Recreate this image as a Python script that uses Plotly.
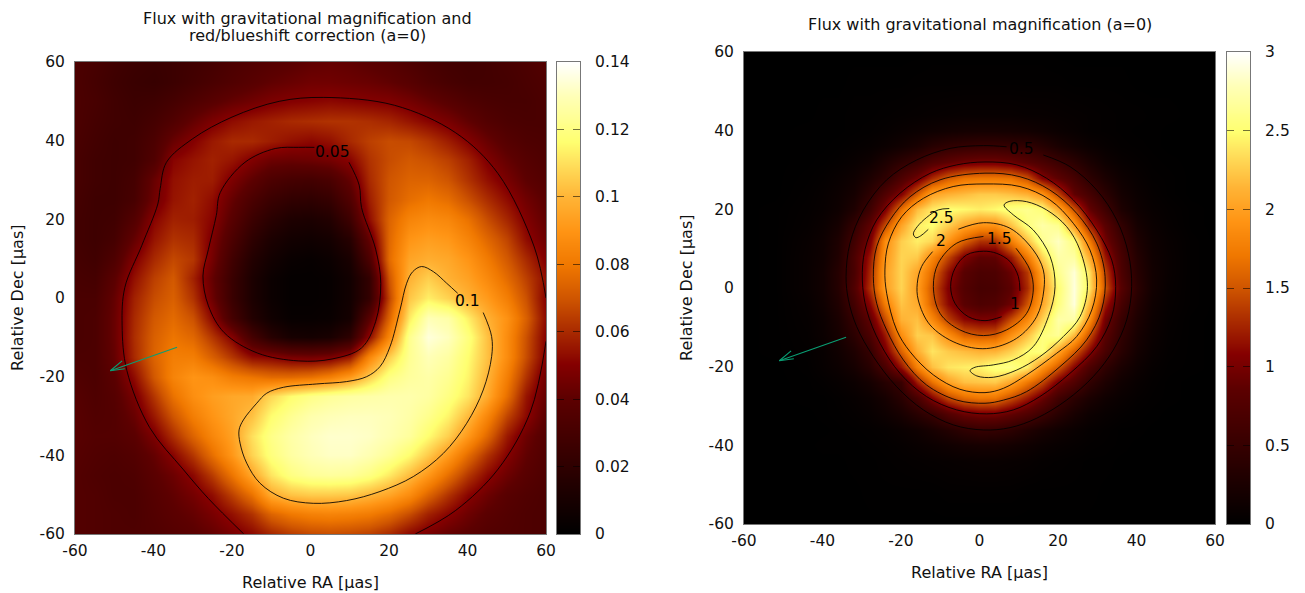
import numpy as np
import plotly.graph_objects as go

# ---------- left panel: flux with magnification and red/blueshift, unit 0.001 ----------
left_x = list(range(-60, 61, 5))
left_y = list(range(60, -61, -5))
left_flux_milli = [
[33,31,28,26,25,26,28,30,33,35,37,39,41,42,41,39,37,34,31,29,28,29,31,33,36],
[33,30,27,25,24,26,29,32,35,38,41,43,45,45,44,43,41,38,34,31,29,29,30,32,34],
[33,31,28,26,27,30,34,38,42,45,48,50,51,52,51,50,49,46,42,38,34,32,31,31,33],
[33,30,28,27,30,35,42,48,53,56,58,60,61,62,62,61,59,55,51,47,41,36,33,32,32],
[32,29,27,28,33,43,50,56,60,60,57,54,52,54,60,65,68,67,63,57,50,43,37,34,33],
[31,28,27,28,35,51,55,58,55,49,44,43,44,46,51,62,68,71,69,65,58,49,42,37,34],
[31,28,27,30,43,54,57,57,48,40,33,30,29,32,42,60,70,74,74,70,62,54,47,40,36],
[30,27,27,31,45,55,58,53,42,32,25,21,20,23,35,57,71,77,80,77,69,61,53,45,39],
[29,27,28,36,51,58,57,51,38,26,18,13,12,15,27,53,74,84,87,85,78,68,59,49,41],
[29,27,30,42,55,62,60,48,33,20,12,8,7,9,17,42,75,90,93,91,84,75,66,53,44],
[30,28,34,49,60,67,63,46,28,15,8,4,3,5,11,33,76,95,98,96,90,81,71,60,49],
[31,30,39,54,65,71,58,42,25,12,5,2,2,3,8,22,70,99,106,99,94,86,76,65,53],
[32,32,42,58,68,73,62,44,25,12,5,2,2,3,8,22,66,104,113,107,99,92,82,69,50],
[32,33,43,60,71,76,69,52,30,15,7,3,3,4,9,38,74,112,130,127,113,99,89,73,52],
[32,33,43,61,73,79,75,63,50,30,17,10,9,11,20,53,85,122,135,131,119,103,87,69,50],
[33,33,42,60,74,82,82,73,63,53,51,47,46,48,56,85,106,123,130,126,116,103,87,68,49],
[35,33,39,53,71,84,90,88,82,79,76,76,78,83,92,106,120,125,127,123,114,100,82,62,44],
[37,34,37,47,63,78,88,93,96,97,108,116,121,124,126,127,128,128,126,120,111,97,77,55,42],
[38,35,36,43,56,70,82,90,96,103,116,123,128,130,131,131,130,127,122,114,101,85,66,52,39],
[38,36,36,39,48,61,74,85,94,110,121,127,131,133,133,132,129,125,116,106,91,75,56,44,36],
[37,35,34,36,42,51,63,77,91,107,119,126,130,132,132,129,124,116,105,92,76,62,50,41,35],
[36,34,33,34,39,44,52,64,79,96,111,120,124,125,124,120,112,102,91,77,63,52,44,38,34],
[36,35,33,33,37,41,46,53,65,78,97,103,105,105,104,100,95,87,74,62,51,44,38,35,33],
[36,35,34,33,36,39,42,47,54,62,74,80,83,84,83,81,76,68,58,51,44,39,36,34,33],
[36,35,34,34,35,37,39,42,47,52,59,64,67,68,67,65,60,52,47,42,39,36,35,34,33],
]

# contour lines (µas); None separates pieces
left_c005_x = [9.8,12.4,13,16.6,17.9,16.6,13,5.5,-3,-13.5,-22,-26,-27.4,-26,-24,-23,-16.7,-9,-3,1,
               None,-17,-26,-32.5,-41,-46.8,-48,-47.3,-43,-38.9,-38.3,-36.7,-30,-20,-8,3.4,21.4,37,47.8,57,60,
               None,60,56,47.8,37,26.7]
left_c005_y = [34.5,28.7,23,12.4,3.7,-6,-12.7,-15.5,-16,-14,-8.8,-2,5.6,12.4,21,26.8,34.5,38,38.3,38.3,
               None,-60,-51,-43.5,-32.9,-18.4,-6.9,2.7,13.3,23.9,27.8,34.5,40.5,46,50,51,49,42,31.6,13,0,
               None,-11,-29,-43.5,-54,-60]
left_c010_x = [44,46.15,46.15,44,39.8,33.85,26.2,17.7,9.2,0.7,-6.9,-12.85,-16.25,-17.95,-18.2,-17.1,-13.7,
               -11.15,-6.9,1.6,9.2,14.3,17.7,20.25,22.8,24.5,26.05,28.3,31.3,34.7,37.5]
left_c010_y = [-3.7,-9.8,-14.9,-23.4,-31.85,-39.5,-45.4,-49.2,-51.5,-52.2,-50.9,-47.1,-42,-36.9,-33.55,-31,-26.75,
               -24.2,-22.7,-21.85,-21.25,-20,-17.45,-12.4,-3.05,3.75,6.7,8,6.7,3.75,1.2]

# ---------- right panel: flux with magnification, unit 0.01 ----------
right_x = [-60,-52,-44,-40,-36,-32,-28,-24,-20,-16,-12,-8,-4,0,4,8,12,16,20,24,28,32,36,40,44,48,54,60]
right_y = [60,52,44,40,36,32,28,24,20,16,12,8,4,0,-4,-8,-12,-16,-20,-24,-28,-32,-36,-40,-44,-52,-60]
right_flux_centi = [
[0,0,0,0,0,0,0,0,0,0,1,1,1,1,1,1,1,1,0,0,0,0,0,0,0,0,0,0],
[0,0,0,0,0,1,1,1,1,2,2,2,2,2,2,2,2,2,2,1,1,1,1,0,0,0,0,0],
[0,0,0,1,1,2,2,3,4,5,6,7,8,8,8,8,7,7,6,5,4,3,2,2,1,1,0,0],
[0,0,1,1,1,2,3,5,8,11,14,17,19,20,20,19,17,14,10,7,4,3,2,1,1,0,0,0],
[0,0,1,1,2,4,6,10,16,24,36,44,48,51,51,48,46,36,24,16,10,6,3,2,1,0,0,0],
[0,0,1,2,4,8,14,27,42,55,74,86,95,99,99,93,80,69,55,40,25,13,7,4,2,1,0,0],
[0,0,2,4,8,14,27,43,71,96,129,154,168,171,171,168,148,107,85,65,42,25,13,7,3,2,0,0],
[0,0,3,6,11,20,42,74,106,155,203,212,218,225,225,220,212,193,142,88,65,40,19,10,5,2,0,0],
[0,1,4,7,13,28,58,103,165,218,240,250,247,242,247,257,262,252,207,148,90,58,27,13,7,4,1,0],
[0,1,5,10,20,47,85,145,203,242,250,228,205,192,192,222,255,272,262,198,125,82,46,20,10,5,1,0],
[0,1,7,13,27,60,102,188,227,242,232,193,157,132,132,176,220,262,282,255,175,98,58,27,13,7,2,0],
[0,1,8,14,30,70,120,195,230,225,183,142,103,86,88,120,172,230,272,270,210,120,67,33,15,8,2,0],
[0,1,8,16,35,68,128,202,230,205,162,115,82,70,72,93,135,205,262,288,237,140,72,36,17,8,2,0],
[0,1,8,16,34,74,133,200,230,200,150,105,77,65,67,85,128,195,250,290,240,150,80,40,17,7,2,0],
[0,1,6,14,29,62,110,175,222,208,155,112,83,72,76,95,149,205,255,290,216,122,66,33,14,6,2,0],
[0,1,5,11,24,50,87,147,213,220,183,138,110,102,103,145,182,228,272,272,190,98,53,27,12,5,1,0],
[0,1,4,10,20,40,70,120,187,228,223,188,157,150,152,190,220,255,265,216,148,82,45,22,10,4,1,0],
[0,1,3,7,15,28,50,100,158,210,238,225,218,212,213,228,250,256,205,155,110,68,38,18,8,3,1,0],
[0,0,2,6,11,20,37,68,117,178,220,238,242,245,256,260,242,192,153,108,72,44,24,12,5,2,1,0],
[0,0,1,3,6,11,20,35,52,122,167,202,220,223,225,205,172,143,100,75,46,27,14,7,3,1,0,0],
[0,0,1,1,3,6,11,20,37,66,107,142,162,170,168,145,120,93,60,40,25,14,8,4,2,1,0,0],
[0,0,0,1,2,4,7,13,22,37,52,76,93,99,99,88,74,56,37,22,12,7,4,2,1,0,0,0],
[0,0,0,0,1,2,3,5,9,14,22,32,43,50,48,41,30,21,14,9,5,3,1,1,0,0,0,0],
[0,0,0,1,1,1,2,3,5,8,11,15,19,21,21,18,14,10,7,5,3,2,1,0,0,0,0,0],
[0,0,0,0,0,1,1,2,3,4,5,6,7,8,8,7,6,4,3,2,1,1,0,0,0,0,0,0],
[0,0,0,0,0,0,1,1,1,1,1,2,2,2,2,2,1,1,1,1,1,0,0,0,0,0,0,0],
[0,0,0,0,0,0,0,0,0,0,0,0,0,0,0,0,0,0,0,0,0,0,0,0,0,0,0,0],
]

# contour lines (µas); None separates pieces
right_c05_x = [16.26,23.06,29.85,34.95,37.92,38.77,37.5,34.1,29,22.2,14.6,7.8,1,-6.7,-14.3,-21.1,-27.05,-31.3,-33.4,-34,-33,-29.6,-23.65,-16,-7.5,1,6.9]
right_c05_y = [33.82,30.86,24.93,17.3,8.82,0.35,-8.1,-15.75,-22.5,-28.5,-33.1,-35.5,-36.1,-34.8,-31,-25.1,-17.45,-9.8,-3,2.9,11.4,19.8,27.5,32.55,35.5,36.2,35.9]
right_c10_x = [1.4,9.5,17.1,23.9,29.85,33.7,34.7,33.7,29.85,23.05,15.4,8.6,1.8,-5.8,-13.5,-20.25,-25.35,-28.75,-29.85,-29.2,-26.2,-20.25,-12.6,-5.8,1.4,
               None,10.3,9.9,7.8,4.4,1,-3.3,-6.25,-7.35,-6.25,-2.85,1.4,5.65]
right_c10_y = [32.05,31.3,27.9,22.4,14.75,7.1,0.35,-7.3,-14.9,-21.7,-27.6,-31,-32,-31,-27.6,-21.7,-14.05,-5.6,2.05,9.7,17.3,24.1,29.15,31.3,32.05,
               None,-0.75,2.9,6.7,8.8,9.35,8.4,5,0.35,-3.9,-7.3,-8.3,-7.3]
right_c15_x = [1.4,10.3,17.95,24.75,29.85,32,31.1,27.3,20.5,12,6.1,1.4,-5.8,-13.5,-19.4,-23.65,-26.2,-27.05,-26.2,-22.8,-17.7,-10.05,1.4,
               None,9.3,12.85,13.7,12,6.9,1,-5,-10.05,-11.75,-10.5,-5.8,1]
right_c15_y = [29.2,28.3,24.9,19,11.4,2.9,-5.6,-13.2,-20,-26.35,-28.5,-29.3,-28.5,-24.65,-18.3,-10.7,-3.9,2.9,10.5,17.3,23.2,27.5,29.2,
               None,10.1,4.6,-0.5,-6.45,-10.65,-12.1,-10.65,-6.45,0.35,6.3,11.4,13.1]
right_c20_x = [1.4,10.3,17.95,23.9,28.15,29.85,28.6,24.75,19.65,12,6.1,1.4,-5,-11.75,-17.7,-21.1,-23.65,-24.1,-23.2,-19.8,-14.3,-6.7,1.4,
               None,-5.4,1,7.75,13.7,16.25,16.4,14.55,9.45,1.8,-5.8,-12.6,-15.6,-15.85,-14.75,-11.95]
right_c20_y = [26.45,25.8,22.4,16.45,9.65,2.05,-5.6,-12.35,-16.6,-22.1,-25.5,-26.6,-25.75,-22.1,-16.2,-10.7,-1.35,4.6,11.4,18.15,22.8,25.8,26.45,
               None,14.95,16.6,15.2,9.65,4.6,-0.5,-7.3,-12.8,-15.4,-14.05,-9.4,-3.05,1.2,5.45,9.25]
right_c25_x = [6.25,7.75,12,17.1,22.2,25.6,27.5,25.6,21.35,15.4,9.5,3.5,-0.7,-2.4,-1.15,3.5,8.6,13.7,17.55,19.25,18,13.7,8.6,6.25,
               None,-7.7,-10.5,-13.45,-15.85,-16.85,-16.2,-15,-13.05]
right_c25_y = [21.1,22.05,21.95,19.85,15.6,9.65,0.35,-7.3,-12.35,-17.45,-20.85,-22.7,-22.35,-21,-20.15,-19.55,-18.3,-14.9,-7.3,0.35,8,14.75,18.6,21.1,
               None,20.2,19.85,17.95,15.6,13.75,12.8,13.25,14.9]

# ---------- annotations ----------
left_title_lines = ["Flux with gravitational magnification and", "red/blueshift correction (a=0)"]
right_title = "Flux with gravitational magnification (a=0)"
x_label = "Relative RA [µas]"
y_label = "Relative Dec [µas]"
axis_ticks = [-60, -40, -20, 0, 20, 40, 60]
axis_tick_text = ["-60", "-40", "-20", "0", "20", "40", "60"]
left_cb_ticks = [0, 0.02, 0.04, 0.06, 0.08, 0.1, 0.12, 0.14]
left_cb_text = ["0", "0.02", "0.04", "0.06", "0.08", "0.1", "0.12", "0.14"]
right_cb_ticks = [0, 0.5, 1, 1.5, 2, 2.5, 3]
right_cb_text = ["0", "0.5", "1", "1.5", "2", "2.5", "3"]
left_contour_labels = [("0.05", 5.5, 37.1), ("0.1", 40.1, -0.8)]
right_contour_labels = [("0.5", 10.8, 35.3), ("2.5", -9.6, 17.8), ("2", -9.8, 12.0),
                        ("1.5", 5.2, 12.5), ("1", 9.0, -4.1)]
arrow_x = [-34, -51, None, -48, -51, -47.3]
arrow_y = [-12.5, -18.5, None, -16, -18.5, -18]

palette = [[0, "#000000"], [0.143, "#2e0000"], [0.286, "#5c0000"], [0.36, "#850000"],
           [0.43, "#a92a00"], [0.5, "#cf5500"], [0.57, "#f07800"], [0.643, "#ff9414"],
           [0.714, "#ffb436"], [0.786, "#ffe05c"], [0.83, "#ffff70"], [0.857, "#ffff82"],
           [0.93, "#ffffb8"], [1, "#ffffff"]]

# the page body keeps an 8 px margin, so the figure sits 8 px in from the window corner
PAGE = 8
W, H = 1305 - PAGE, 593 - PAGE
def fx(p): return (p - PAGE) / W
def fy(p): return 1 - (p - PAGE) / H

FONT = "DejaVu Sans"
TEXT = dict(family=FONT, size=16, color="#111111")
TICK = dict(family=FONT, size=15.5, color="#111111")
z_left = np.array(left_flux_milli, float) / 1000
z_right = np.array(right_flux_centi, float) / 100

fig = go.Figure()

def note(px, py, text, font=TEXT, angle=0):
    fig.add_annotation(x=fx(px), y=fy(py), xref="paper", yref="paper", text=text, showarrow=False,
                       xanchor="center", yanchor="middle", textangle=angle, font=font)

def panel(idx, xs, ys, z, zmax, contours, labels, x0, x1, y0, y1, cb0, cb1, cb_ticks, cb_text):
    ax, ay = (f"x{idx}" if idx > 1 else "x"), (f"y{idx}" if idx > 1 else "y")
    bx, by = f"x{idx+10}", f"y{idx+10}"
    fig.add_trace(go.Heatmap(x=xs, y=ys, z=z, zmin=0, zmax=zmax, colorscale=palette, zsmooth="best",
                             showscale=False, hoverinfo="skip", xaxis=ax, yaxis=ay))
    for cx, cy in contours:
        fig.add_trace(go.Scatter(x=cx, y=cy, mode="lines", connectgaps=False,
                                 line=dict(color="rgba(0,0,0,0.85)", width=1, shape="spline", smoothing=1),
                                 hoverinfo="skip", showlegend=False, xaxis=ax, yaxis=ay))
    fig.add_trace(go.Scatter(x=arrow_x, y=arrow_y, mode="lines", line=dict(color="#0a9e73", width=1.1),
                             hoverinfo="skip", showlegend=False, xaxis=ax, yaxis=ay))
    scale = np.linspace(0, zmax, 120)
    fig.add_trace(go.Heatmap(x=[0, 1], y=scale, z=[[v, v] for v in scale], zmin=0, zmax=zmax,
                             colorscale=palette, zsmooth="best", showscale=False, hoverinfo="skip",
                             xaxis=bx, yaxis=by))
    axis_style = dict(range=[-60, 60], tickvals=axis_ticks, ticktext=axis_tick_text, ticks="", showgrid=False,
                      zeroline=False, showline=True, mirror=True, linecolor="#777777", linewidth=1,
                      tickfont=TICK, automargin=False)
    fig.layout[f"xaxis{idx if idx > 1 else ''}"] = dict(axis_style, domain=[fx(x0), fx(x1)], anchor=ay, ticklabelstandoff=2)
    fig.layout[f"yaxis{idx if idx > 1 else ''}"] = dict(axis_style, domain=[fy(y1), fy(y0)], anchor=ax, ticklabelstandoff=6)
    fig.layout[f"xaxis{idx+10}"] = dict(range=[0, 1], domain=[fx(cb0), fx(cb1)], anchor=by, showticklabels=False,
                                        ticks="", showgrid=False, zeroline=False, showline=True, mirror=True,
                                        linecolor="#777777", linewidth=1, automargin=False)
    fig.layout[f"yaxis{idx+10}"] = dict(range=[0, zmax], domain=[fy(y1), fy(y0)], anchor=bx, side="right",
                                        tickvals=cb_ticks, ticktext=cb_text, ticks="inside", ticklen=7,
                                        tickcolor="rgba(0,0,0,0.55)", showgrid=False, zeroline=False,
                                        showline=True, mirror="ticks", linecolor="#777777", linewidth=1,
                                        tickfont=TICK, ticklabelstandoff=11, automargin=False)
    for text, lx, ly in labels:
        fig.add_annotation(x=lx, y=ly, xref=ax, yref=ay, text=text, showarrow=False,
                           font=dict(family=FONT, size=15.5, color="#000000"))
    note((x0 + x1) / 2, y1 + 48, x_label)
    note(x0 - 58, (y0 + y1) / 2, y_label, angle=-90)

panel(1, left_x, left_y, z_left, 0.14,
      [(left_c005_x, left_c005_y), (left_c010_x, left_c010_y)], left_contour_labels,
      75, 546, 62, 534, 557, 580, left_cb_ticks, left_cb_text)
panel(2, right_x, right_y, z_right, 3,
      [(right_c05_x, right_c05_y), (right_c10_x, right_c10_y), (right_c15_x, right_c15_y),
       (right_c20_x, right_c20_y), (right_c25_x, right_c25_y)], right_contour_labels,
      744, 1215, 52, 524, 1227, 1250, right_cb_ticks, right_cb_text)

for line, py in zip(left_title_lines, [18, 35]):
    note(307, py, line)
note(980, 24, right_title)

fig.update_layout(width=W, height=H, margin=dict(l=0, r=0, t=0, b=0), showlegend=False,
                  paper_bgcolor="white", plot_bgcolor="white", font=dict(family=FONT))
fig.write_html("out.html")
